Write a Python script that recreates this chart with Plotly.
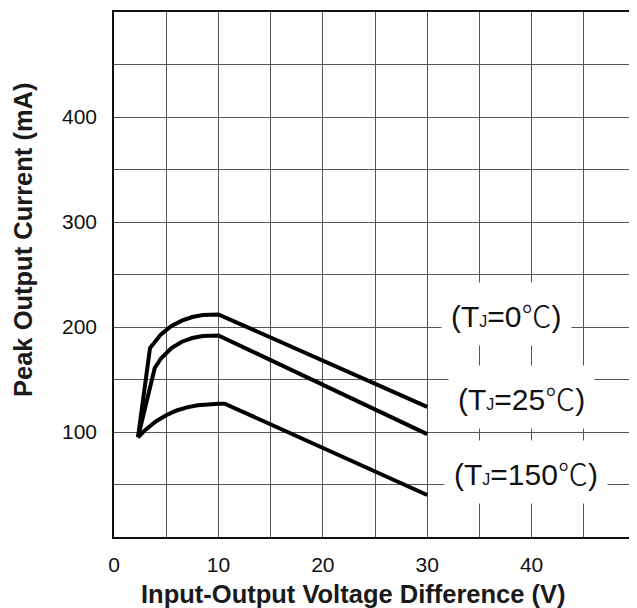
import plotly.graph_objects as go

# Data
tj0_x = [2.3, 3.45, 4.5, 5.5, 6.5, 7.5, 8.5, 9.5, 10.0, 30.0]
tj0_y = [95, 180, 193, 201, 206, 209.5, 211.5, 212, 212, 124]
tj25_x = [2.3, 3.9, 4.5, 5.5, 6.5, 7.5, 8.5, 9.5, 10.0, 30.0]
tj25_y = [95, 161, 170, 180, 186, 189.5, 191.5, 192, 192, 98]
tj150_x = [2.3, 3.0, 4.0, 5.0, 6.0, 7.0, 8.0, 9.0, 10.0, 10.6, 30.0]
tj150_y = [95, 102, 110, 116, 120.5, 123.5, 125.5, 126.5, 127, 127, 40]

x_tickvals = [0, 5, 10, 15, 20, 25, 30, 35, 40, 45, 50]
x_ticktext = ["0", "", "10", "", "20", "", "30", "", "40", "", ""]
y_tickvals = [0, 50, 100, 150, 200, 250, 300, 350, 400, 450, 500]
y_ticktext = ["", "", "100", "", "200", "", "300", "", "400", "", ""]

deg = "<span style=\"font-family:'Noto Sans CJK SC';font-weight:300\">℃</span>"
sub_j = "<span style='font-size:16px'>J</span>"
labels = ["(T" + sub_j + "=0" + deg + ")",
          "(T" + sub_j + "=25" + deg + ")",
          "(T" + sub_j + "=150" + deg + ")"]
label_x = [37.6, 39.0, 39.5]
label_y = [212, 133, 62]

FONT = "Liberation Sans, Arial, sans-serif"

fig = go.Figure()
for xs, ys in [(tj0_x, tj0_y), (tj25_x, tj25_y), (tj150_x, tj150_y)]:
    fig.add_trace(go.Scatter(x=xs, y=ys, mode="lines",
                             line=dict(color="black", width=4),
                             showlegend=False, hoverinfo="skip"))

for t, lx, ly in zip(labels, label_x, label_y):
    fig.add_annotation(x=lx, y=ly, text=t, showarrow=False,
                       font=dict(family=FONT, size=30, color="#111"),
                       bgcolor="white", borderpad=9, xanchor="center", yanchor="middle")

# plot area in figure pixels: x 106..628, y 4..529 (figure 629x600)
PW, PH = 522, 525
fig.add_annotation(xref="paper", yref="paper", x=(353 - 114) / PW, y=(537 - 594) / PH,
                   text="<b>Input-Output Voltage Difference (V)</b>", showarrow=False,
                   font=dict(family=FONT, size=25.5, color="#1a1a1a"),
                   xanchor="center", yanchor="middle")
fig.add_annotation(xref="paper", yref="paper", x=(23 - 114) / PW, y=(537 - 240) / PH,
                   text="<b>Peak Output Current (mA)</b>", showarrow=False, textangle=-90,
                   font=dict(family=FONT, size=25.5, color="#1a1a1a"),
                   xanchor="center", yanchor="middle")

fig.update_layout(
    width=629, height=600,
    margin=dict(l=106, r=1, t=4, b=71),
    paper_bgcolor="white", plot_bgcolor="white",
    font=dict(family=FONT, size=21, color="#111"),
    xaxis=dict(range=[0, 50], tickvals=x_tickvals, ticktext=x_ticktext,
               showgrid=True, gridcolor="#555", gridwidth=1.2,
               showline=True, linecolor="#111", linewidth=1.5, mirror=True,
               zeroline=False, ticks="", ticklabelstandoff=8,
               tickfont=dict(size=21)),
    yaxis=dict(range=[0, 500], tickvals=y_tickvals, ticktext=y_ticktext,
               showgrid=True, gridcolor="#555", gridwidth=1.2,
               showline=True, linecolor="#111", linewidth=1.5,
               zeroline=False, ticks="", ticklabelstandoff=11,
               tickfont=dict(size=21)),
)

fig.write_html("out.html")
